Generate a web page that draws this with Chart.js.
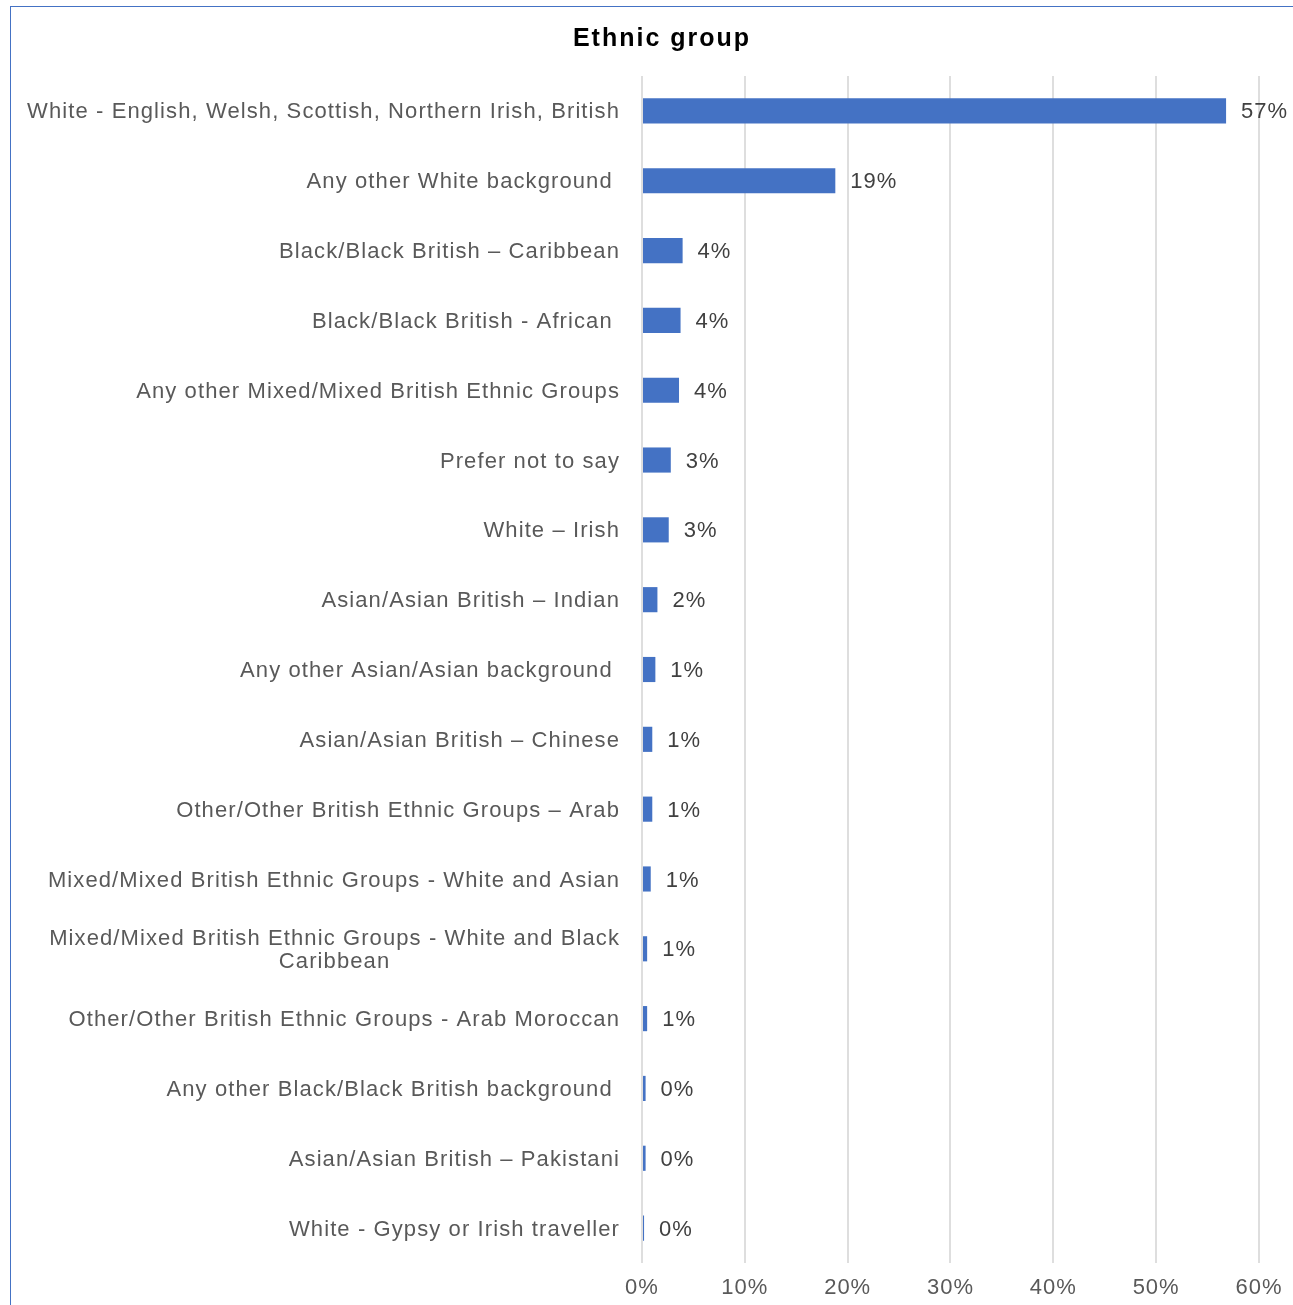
<!DOCTYPE html>
<html>
<head>
<meta charset="utf-8">
<script src="https://cdn.jsdelivr.net/npm/chart.js@4.4.1/dist/chart.umd.min.js"></script>
<style>
  html, body { margin: 0; padding: 0; background: #fff; overflow: hidden; }
  #frame {
    position: absolute; left: 10px; top: 6px; width: 1400px; height: 1400px;
    border-top: 1.5px solid #4472c4; border-left: 1.5px solid #4472c4;
  }
  #ethnicChart { position: absolute; left: 0; top: 0; }
</style>
</head>
<body>
<div id="frame"></div>
<canvas id="ethnicChart" width="1293" height="1305"></canvas>
<script>
const categories = [
  "White - English, Welsh, Scottish, Northern Irish, British",
  "Any other White background ",
  "Black/Black British – Caribbean",
  "Black/Black British - African ",
  "Any other Mixed/Mixed British Ethnic Groups",
  "Prefer not to say",
  "White – Irish",
  "Asian/Asian British – Indian",
  "Any other Asian/Asian background ",
  "Asian/Asian British – Chinese",
  "Other/Other British Ethnic Groups – Arab",
  "Mixed/Mixed British Ethnic Groups - White and Asian",
  ["Mixed/Mixed British Ethnic Groups - White and Black", "Caribbean"],
  "Other/Other British Ethnic Groups - Arab Moroccan",
  "Any other Black/Black British background ",
  "Asian/Asian British – Pakistani",
  "White - Gypsy or Irish traveller",
];
const shares = [56.8, 18.8, 3.95, 3.75, 3.6, 2.8, 2.6, 1.5, 1.3, 1.0, 1.0, 0.85, 0.5, 0.5, 0.35, 0.35, 0.2];
const shareLabels = ["57%", "19%", "4%", "4%", "4%", "3%", "3%", "2%", "1%", "1%", "1%", "1%", "1%", "1%", "0%", "0%", "0%"];
const xTicks = [0, 10, 20, 30, 40, 50, 60];

const FONT = "'Liberation Sans', Arial, sans-serif";
const TEXT_GREY = "#595959";

// title, category names and bar labels are drawn by hand
const textPlugin = {
  id: "textPlugin",
  beforeDraw(chart) {
    chart.ctx.letterSpacing = "1px";
  },
  afterDatasetsDraw(chart) {
    const ctx = chart.ctx;
    const yScale = chart.scales.y;
    const area = chart.chartArea;
    ctx.save();

    // title
    ctx.letterSpacing = "2px";
    ctx.font = "bold 25px " + FONT;
    ctx.fillStyle = "#000";
    ctx.textAlign = "center";
    ctx.textBaseline = "middle";
    ctx.fillText("Ethnic group", 662, 39);

    // category names
    ctx.letterSpacing = "1.1px";
    ctx.font = "22px " + FONT;
    ctx.fillStyle = TEXT_GREY;
    const labelRight = area.left - 22;
    categories.forEach((label, i) => {
      const y = yScale.getPixelForValue(i) + 1.5;
      if (Array.isArray(label)) {
        const w = ctx.measureText(label[0]).width;
        ctx.textAlign = "center";
        label.forEach((line, k) => {
          ctx.fillText(line, labelRight - w / 2, y + (k - (label.length - 1) / 2) * 23);
        });
      } else {
        ctx.textAlign = "right";
        ctx.fillText(label, labelRight, y);
      }
    });

    // value labels
    ctx.letterSpacing = "1px";
    ctx.fillStyle = "#404040";
    ctx.textAlign = "left";
    const meta = chart.getDatasetMeta(0);
    meta.data.forEach((bar, i) => {
      ctx.fillText(shareLabels[i], bar.x + 15, bar.y + 1.5);
    });
    ctx.restore();
  },
};

new Chart(document.getElementById("ethnicChart").getContext("2d"), {
  type: "bar",
  data: {
    labels: categories,
    datasets: [
      {
        label: "Ethnic group",
        data: shares,
        backgroundColor: "#4472c4",
        borderWidth: 0,
        barPercentage: 0.36,
        categoryPercentage: 1,
      },
    ],
  },
  options: {
    indexAxis: "y",
    responsive: false,
    animation: false,
    layout: {
      padding: { left: 642, right: 33, top: 76, bottom: 0 },
    },
    plugins: {
      legend: { display: false },
      title: { display: false },
      tooltip: { enabled: false },
    },
    scales: {
      x: {
        min: xTicks[0],
        max: xTicks[xTicks.length - 1],
        afterFit: (scale) => { scale.height = 42; },
        afterBuildTicks: (scale) => { scale.ticks = xTicks.map((v) => ({ value: v })); },
        border: { display: false },
        grid: { color: "#dedede", lineWidth: 2, drawTicks: false },
        ticks: {
          padding: 12,
          color: TEXT_GREY,
          font: { family: FONT, size: 22 },
          callback: (v) => v + "%",
        },
      },
      y: {
        display: false,
      },
    },
  },
  plugins: [textPlugin],
});
</script>
</body>
</html>
